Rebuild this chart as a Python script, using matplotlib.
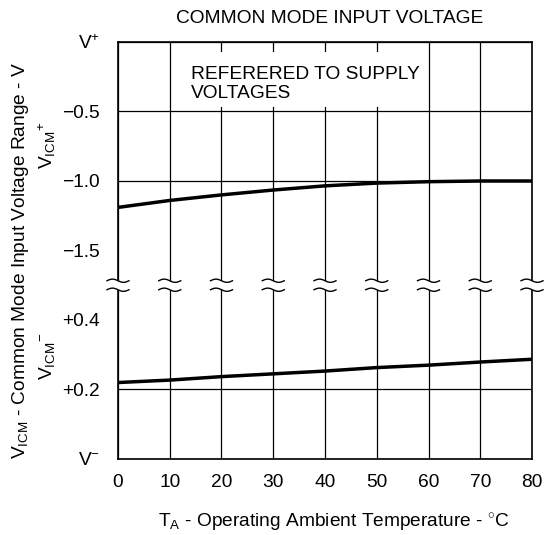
import matplotlib
matplotlib.use("Agg")
import matplotlib.pyplot as plt
from matplotlib.patches import Rectangle
from matplotlib.transforms import ScaledTranslation
import numpy as np

plt.rcParams['font.family'] = ['Liberation Sans', 'DejaVu Sans']
plt.rcParams['font.size'] = 13.8
plt.rcParams['mathtext.fontset'] = 'custom'
plt.rcParams['mathtext.rm'] = 'Liberation Sans'
plt.rcParams['mathtext.it'] = 'Liberation Sans:italic'
plt.rcParams['mathtext.bf'] = 'Liberation Sans:bold'

# data
temps = [0, 10, 20, 30, 40, 50, 60, 70, 80]
# upper common-mode limit, volts referred to V+
vicm_plus = [-1.19, -1.14, -1.10, -1.065, -1.035, -1.015, -1.005, -1.0, -1.0]
# lower common-mode limit, volts referred to V-
vicm_minus = [0.22, 0.227, 0.237, 0.245, 0.253, 0.263, 0.27, 0.279, 0.287]

upper_ticks = [0.0, -0.5, -1.0, -1.5]
lower_ticks = [0.0, 0.2, 0.4]
upper_labels = [r'V$^{+}$', '\u22120.5', '\u22121.0', '\u22121.5']
lower_labels = [r'V$^{-}$', '+0.2', '+0.4']


# broken axis: V- at 0, 0.2 V/div below the break, 0.5 V/div above it
def pos_upper(v):
    return 6 + np.asarray(v) / 0.5


def pos_lower(v):
    return np.asarray(v) / 0.2


fig = plt.figure(figsize=(5.47, 5.35), dpi=100)
ax = fig.add_axes([0.2157, 0.1421, 0.7569, 0.7794])

ax.plot(temps, pos_upper(vicm_plus), color='black', lw=2.5, zorder=5)
ax.plot(temps, pos_lower(vicm_minus), color='black', lw=2.5, zorder=5)

ax.set_xlim(0, 80)
ax.set_ylim(0, 6)
ax.set_xticks(temps)
yt = list(pos_lower(lower_ticks)) + list(pos_upper(upper_ticks[::-1]))
ax.set_yticks(yt)
ax.set_yticklabels(lower_labels + upper_labels[::-1])
ax.tick_params(length=0)
ax.tick_params(axis='x', pad=10.5)
ax.tick_params(axis='y', pad=13)
ax.grid(True, color='black', lw=0.9)
ax.set_axisbelow(True)
# no grid line across the break
for gl, p in zip(ax.get_ygridlines(), yt):
    if abs(p - 2.5) < 0.6:
        gl.set_visible(False)
for s in ax.spines.values():
    s.set_linewidth(1.2)

# note box
ax.add_patch(Rectangle((12, 5.07), 47.5, 0.78, facecolor='white',
                       edgecolor='none', zorder=2))
ax.text(14.1, 5.66, 'REFERERED TO SUPPLY\nVOLTAGES', ha='left', va='top',
        linespacing=1.2, zorder=3)

# break marks on every vertical line
t = np.linspace(-1, 1, 40)
hw, amp, gap = 0.11, 0.016, 0.045
for x in temps:
    tr = fig.dpi_scale_trans + ScaledTranslation(x, 2.5, ax.transData)
    top = gap - amp * np.sin(np.pi * t)
    bot = -gap - amp * np.sin(np.pi * t)
    ax.fill_between(hw * t, bot, top, color='white', transform=tr,
                    zorder=6, clip_on=False, lw=0)
    ax.plot(hw * t, top, color='black', lw=1.0, transform=tr, zorder=7,
            clip_on=False)
    ax.plot(hw * t, bot, color='black', lw=1.0, transform=tr, zorder=7,
            clip_on=False)

fig.text(0.603, 0.965, 'COMMON MODE INPUT VOLTAGE', ha='center', va='center')
fig.text(0.611, 0.022, r'T$_{\mathregular{A}}$ - Operating Ambient Temperature - $^{\circ}$C',
         ha='center', va='center')
fig.text(0.038, 0.514,
         r'V$_{\mathregular{ICM}}$ - Common Mode Input Voltage Range - V',
         rotation=90, ha='center', va='center')
fig.text(0.086, 0.729, r'V$_{\mathregular{ICM}}$$^{+}$', rotation=90,
         ha='center', va='center')
fig.text(0.086, 0.333, r'V$_{\mathregular{ICM}}$$^{-}$', rotation=90,
         ha='center', va='center')

fig.savefig('out.png', dpi=100)
